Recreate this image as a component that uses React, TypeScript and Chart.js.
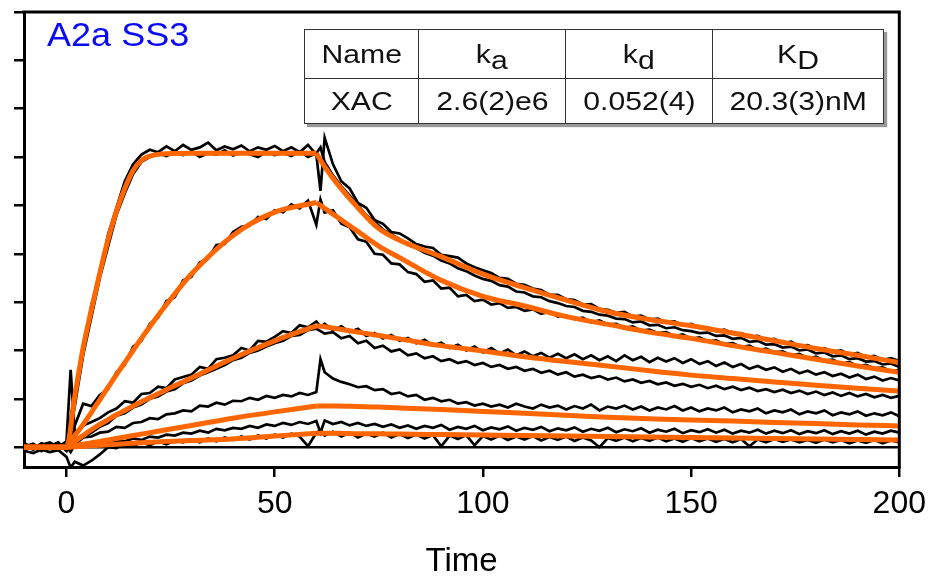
import { useEffect, useRef } from "react";
import { Chart, registerables } from "chart.js";

Chart.register(...registerables);

const FONT = '"Liberation Sans", Arial, sans-serif';
const ORANGE = "#ff6600";

// Sampling times of the measured sensorgram traces (s)
const TIME = [
  -10, -8, -6, -4, -2, 0, 1,
  2, 4, 6, 8, 10, 12, 14, 16, 18, 20,
  22, 24, 26, 28, 30, 32, 34, 36, 38, 40,
  42, 44, 46, 48, 50, 52, 54, 56, 58, 60,
  61,
  62, 64, 66, 68, 70, 72, 74, 76, 78, 80,
  82, 84, 86, 88, 90, 92, 94, 96, 98, 100,
  102, 104, 106, 108, 110, 112, 114, 116, 118, 120,
  122, 124, 126, 128, 130, 132, 134, 136, 138, 140,
  142, 144, 146, 148, 150, 152, 154, 156, 158, 160,
  162, 164, 166, 168, 170, 172, 174, 176, 178, 180,
  182, 184, 186, 188, 190, 192, 194, 196, 198, 200,
];

// Measured traces (black)
const TRACE_1A = [
  0.05, -0.03, 0.08, 0.02, 0.1, -0.05, 0.6,
  1.15, 2.0, 2.95, 3.55, 4.4, 4.95, 5.5, 5.85, 6.05, 6.15,
  6.1, 6.22, 6.12, 6.25, 6.15, 6.2, 6.3, 6.14, 6.22, 6.16,
  6.24, 6.12, 6.2, 6.15, 6.23, 6.12, 6.2, 6.1, 6.25, 6.05,
  5.3,
  6.4, 5.85, 5.5, 5.35, 5.05, 4.95, 4.7, 4.62, 4.45, 4.42,
  4.32, 4.2, 4.15, 4.12, 3.98, 3.95, 3.92, 3.8, 3.72, 3.66,
  3.6, 3.5, 3.48, 3.38, 3.36, 3.28, 3.25, 3.15, 3.15, 3.06,
  3.04, 2.95, 2.96, 2.86, 2.84, 2.78, 2.8, 2.7, 2.72, 2.64,
  2.66, 2.58, 2.6, 2.52, 2.55, 2.47, 2.48, 2.4, 2.43, 2.35,
  2.36, 2.28, 2.3, 2.22, 2.24, 2.15, 2.18, 2.09, 2.11, 2.03,
  2.05, 1.97, 2.0, 1.92, 1.95, 1.86, 1.89, 1.8, 1.84, 1.78,
];
const TRACE_1B = [
  -0.04, 0.06, -0.02, 0.04, -0.06, 0.03, 0.35,
  0.85, 1.9, 2.7, 3.5, 4.15, 4.8, 5.25, 5.65, 5.9, 6.0,
  6.08, 6.02, 6.1, 6.04, 6.12, 6.0, 6.08, 6.05, 6.14, 6.03,
  6.1, 6.06, 6.0, 6.11, 6.04, 6.09, 6.02, 6.12, 6.0, 6.08,
  6.2,
  5.9, 5.62, 5.4, 5.2, 5.0, 4.8, 4.66, 4.5, 4.4, 4.3,
  4.18, 4.12, 4.02, 3.96, 3.86, 3.8, 3.7, 3.64, 3.55, 3.48,
  3.44, 3.35, 3.32, 3.22, 3.2, 3.12, 3.1, 3.02, 2.98, 2.92,
  2.9, 2.82, 2.8, 2.74, 2.72, 2.66, 2.65, 2.58, 2.6, 2.52,
  2.53, 2.46, 2.48, 2.42, 2.4, 2.36, 2.37, 2.3, 2.31, 2.24,
  2.26, 2.18, 2.2, 2.12, 2.13, 2.06, 2.08, 2.0, 2.02, 1.94,
  1.96, 1.88, 1.9, 1.82, 1.84, 1.77, 1.78, 1.71, 1.73, 1.66,
];
const TRACE_2 = [
  0.02, 0.07, -0.05, 0.0, 0.06, -0.08, 0.2,
  0.45, 0.9, 0.85, 1.08, 1.2, 1.55, 1.7, 2.08, 2.2, 2.55,
  2.68, 3.02, 3.1, 3.45, 3.52, 3.82, 3.9, 4.18, 4.2, 4.45,
  4.56, 4.58, 4.76, 4.72, 4.9, 4.86, 5.02, 4.94, 5.1, 4.6,
  5.12,
  4.85, 4.9, 4.62, 4.55, 4.3, 4.25, 4.0, 3.98, 3.8, 3.78,
  3.62, 3.58, 3.42, 3.45, 3.28, 3.3, 3.12, 3.15, 3.02, 3.05,
  2.95, 2.98, 2.88, 2.9, 2.82, 2.85, 2.76, 2.8, 2.7, 2.72,
  2.65, 2.68, 2.58, 2.62, 2.54, 2.55, 2.47, 2.5, 2.41, 2.43,
  2.36, 2.38, 2.3, 2.33, 2.24, 2.27, 2.19, 2.21, 2.13, 2.15,
  2.07, 2.1, 2.01, 2.04, 1.96, 1.98, 1.9, 1.93, 1.84, 1.87,
  1.79, 1.81, 1.73, 1.76, 1.68, 1.7, 1.63, 1.65, 1.57, 1.6,
];
const TRACE_3A = [
  0.08, -0.02, 0.05, 0.1, 0.0, 0.12, 1.6,
  0.3, 0.45, 0.52, 0.6, 0.72, 0.8, 0.95, 0.92, 1.1, 1.12,
  1.25, 1.22, 1.4, 1.45, 1.5, 1.66, 1.62, 1.82, 1.85, 1.9,
  2.05, 2.0, 2.2, 2.18, 2.28, 2.4, 2.36, 2.52, 2.48, 2.6,
  2.5,
  2.55, 2.42, 2.5, 2.38, 2.45, 2.3, 2.36, 2.25, 2.32, 2.2,
  2.26, 2.15, 2.22, 2.1, 2.16, 2.05, 2.12, 2.0, 2.08, 1.96,
  2.05, 1.94, 2.02, 1.9, 1.98, 1.88, 1.95, 1.85, 1.93, 1.84,
  1.92, 1.82, 1.9, 1.8, 1.88, 1.78, 1.9, 1.8, 1.87, 1.76,
  1.85, 1.77, 1.84, 1.74, 1.82, 1.72, 1.78, 1.68, 1.75, 1.66,
  1.72, 1.62, 1.68, 1.6, 1.65, 1.56, 1.62, 1.53, 1.58, 1.5,
  1.55, 1.47, 1.52, 1.44, 1.5, 1.41, 1.46, 1.38, 1.43, 1.38,
];
const TRACE_3B = [
  -0.06, 0.04, -0.08, 0.03, -0.04, 0.02, -0.1,
  0.05, 0.2, 0.3, 0.42, 0.5, 0.65, 0.7, 0.82, 0.88, 1.0,
  1.05, 1.15, 1.2, 1.32, 1.38, 1.48, 1.55, 1.62, 1.7, 1.8,
  1.85, 1.95, 2.0, 2.08, 2.15, 2.2, 2.3, 2.32, 2.42, 2.45,
  2.4,
  2.35, 2.38, 2.25, 2.3, 2.15, 2.2, 2.05, 2.1, 1.98, 2.02,
  1.9, 1.94, 1.84, 1.88, 1.78, 1.82, 1.74, 1.78, 1.7, 1.74,
  1.66, 1.7, 1.62, 1.66, 1.58, 1.62, 1.54, 1.58, 1.5, 1.55,
  1.46, 1.5, 1.43, 1.47, 1.4, 1.44, 1.36, 1.4, 1.33, 1.37,
  1.3, 1.34, 1.27, 1.31, 1.25, 1.29, 1.22, 1.27, 1.2, 1.25,
  1.18, 1.23, 1.16, 1.2, 1.14, 1.19, 1.12, 1.17, 1.1, 1.15,
  1.08, 1.13, 1.06, 1.12, 1.05, 1.1, 1.03, 1.08, 1.02, 1.06,
];
const TRACE_4A = [
  0.03, -0.05, 0.06, -0.02, 0.05, 0.0, 0.05,
  0.12, 0.2, 0.22, 0.3, 0.32, 0.42, 0.4, 0.5, 0.52, 0.6,
  0.58, 0.68, 0.7, 0.76, 0.74, 0.86, 0.84, 0.92, 0.88, 0.96,
  0.95, 1.02, 0.98, 1.06, 1.02, 1.08, 1.05, 1.12, 1.08, 1.14,
  1.82,
  1.55, 1.42, 1.35, 1.3, 1.24, 1.26, 1.18, 1.2, 1.1, 1.13,
  1.05, 1.08, 0.98, 1.02, 0.95, 0.98, 0.9, 0.93, 0.86, 0.9,
  0.84, 0.88, 0.82, 0.9, 0.84, 0.8, 0.88, 0.82, 0.86, 0.78,
  0.85, 0.8, 0.88, 0.76, 0.84, 0.8, 0.86, 0.78, 0.84, 0.76,
  0.82, 0.78, 0.85, 0.76, 0.82, 0.74, 0.8, 0.76, 0.82, 0.72,
  0.78, 0.74, 0.8, 0.7, 0.76, 0.72, 0.78, 0.68, 0.74, 0.7,
  0.76, 0.66, 0.72, 0.68, 0.74, 0.65, 0.7, 0.66, 0.72, 0.64,
];
const TRACE_4B = [
  -0.02, 0.04, 0.0, 0.07, -0.03, 0.05, 0.1,
  0.02, 0.08, 0.05, 0.1, 0.08, 0.14, 0.12, 0.18, 0.15, 0.22,
  0.2, 0.26, 0.24, 0.3, 0.28, 0.34, 0.3, 0.38, 0.35, 0.4,
  0.38, 0.44, 0.4, 0.47, 0.44, 0.5, 0.46, 0.52, 0.48, 0.54,
  0.3,
  0.55, 0.48, 0.52, 0.45, 0.5, 0.44, 0.48, 0.42, 0.47, 0.4,
  0.45, 0.38, 0.44, 0.4, 0.46, 0.36, 0.42, 0.38, 0.44, 0.35,
  0.41, 0.37, 0.43, 0.34, 0.4, 0.36, 0.42, 0.33, 0.39, 0.35,
  0.41, 0.32, 0.38, 0.34, 0.4, 0.31, 0.37, 0.33, 0.39, 0.3,
  0.36, 0.32, 0.38, 0.29, 0.35, 0.31, 0.37, 0.3, 0.36, 0.28,
  0.34, 0.3, 0.36, 0.28, 0.34, 0.29, 0.35, 0.27, 0.33, 0.29,
  0.35, 0.27, 0.33, 0.28, 0.34, 0.26, 0.32, 0.28, 0.34, 0.3,
];
const TRACE_5 = [
  -0.08, -0.12, -0.05, -0.1, -0.06, -0.2, -0.42,
  -0.3, -0.38, -0.28, -0.15, 0.0, -0.02, 0.08, 0.02, 0.1, 0.04,
  0.12, 0.06, 0.14, 0.1, 0.16, 0.1, 0.18, 0.12, 0.2, 0.15,
  0.22, 0.16, 0.24, 0.18, 0.26, 0.2, 0.28, 0.22, 0.02, 0.3,
  0.35,
  0.24, 0.32, 0.22, 0.3, 0.2, 0.28, 0.22, 0.3, 0.2, 0.27,
  0.19, 0.26, 0.18, 0.25, 0.02, 0.24, 0.17, 0.25, 0.04, 0.23,
  0.16, 0.24, 0.15, 0.22, 0.16, 0.23, 0.14, 0.21, 0.15, 0.22,
  0.13, 0.2, 0.14, 0.0, 0.19, 0.13, 0.2, 0.12, 0.19, 0.13,
  0.2, 0.12, 0.18, 0.11, 0.19, 0.12, 0.18, 0.11, 0.17, 0.1,
  0.17, 0.02, 0.16, 0.1, 0.17, 0.11, 0.16, 0.1, 0.15, 0.09,
  0.16, 0.1, 0.15, 0.08, 0.14, 0.09, 0.15, 0.08, 0.14, 0.1,
];

// Fitted curves (orange): association phase and dissociation phase
const FIT_ASSOC_T = [-11, 0, 2, 4, 6, 8, 10, 12, 14, 16, 18, 20, 24, 30, 40, 50, 60];
const FIT_DISS_T = [60, 62, 65, 70, 75, 80, 90, 100, 110, 120, 130, 140, 150, 160, 170, 180, 190, 200];

const FIT1_ASSOC = [0, 0, 1.05, 2.05, 2.85, 3.6, 4.3, 4.88, 5.35, 5.72, 5.93, 6.02, 6.07, 6.08, 6.08, 6.08, 6.08];
const FIT1_DISS = [6.08, 5.8, 5.45, 4.95, 4.52, 4.28, 3.94, 3.58, 3.3, 3.04, 2.8, 2.64, 2.51, 2.36, 2.2, 2.04, 1.9, 1.75];
const FIT2_ASSOC = [0, 0, 0.24, 0.47, 0.72, 0.98, 1.24, 1.5, 1.75, 2.0, 2.25, 2.49, 2.95, 3.58, 4.38, 4.86, 5.06];
const FIT2_DISS = [5.06, 4.94, 4.76, 4.46, 4.16, 3.92, 3.45, 3.12, 2.92, 2.7, 2.54, 2.38, 2.25, 2.1, 1.96, 1.82, 1.68, 1.55];
const FIT3_ASSOC = [0, 0, 0.12, 0.24, 0.36, 0.47, 0.57, 0.67, 0.76, 0.85, 0.94, 1.02, 1.19, 1.43, 1.84, 2.2, 2.51];
const FIT3_DISS = [2.51, 2.49, 2.45, 2.38, 2.31, 2.24, 2.1, 1.99, 1.87, 1.77, 1.68, 1.58, 1.49, 1.42, 1.35, 1.28, 1.22, 1.16];
const FIT4_ASSOC = [0, 0, 0.03, 0.06, 0.09, 0.12, 0.15, 0.18, 0.21, 0.24, 0.27, 0.3, 0.36, 0.45, 0.6, 0.73, 0.85];
const FIT4_DISS = [0.85, 0.85, 0.85, 0.84, 0.83, 0.81, 0.78, 0.74, 0.7, 0.66, 0.62, 0.59, 0.56, 0.54, 0.51, 0.49, 0.46, 0.44];
const FIT5_ASSOC = [0, 0, 0.01, 0.02, 0.03, 0.04, 0.05, 0.06, 0.07, 0.08, 0.09, 0.1, 0.12, 0.14, 0.17, 0.23, 0.29];
const FIT5_DISS = [0.29, 0.29, 0.29, 0.28, 0.28, 0.27, 0.26, 0.25, 0.24, 0.23, 0.22, 0.21, 0.2, 0.19, 0.18, 0.17, 0.16, 0.15];

const X_TICKS = [0, 50, 100, 150, 200];
const Y_TICKS = [0, 1, 2, 3, 4, 5, 6, 7, 8, 9];

const TITLE = "A2a SS3";
const TABLE_HEAD: { main: string; sub?: string }[] = [
  { main: "Name" },
  { main: "k", sub: "a" },
  { main: "k", sub: "d" },
  { main: "K", sub: "D" },
];
const TABLE_ROW = ["XAC", "2.6(2)e6", "0.052(4)", "20.3(3)nM"];
const TABLE_COL_W = [114, 147, 147, 171];

export default function App() {
  const ref = useRef<HTMLCanvasElement>(null);

  useEffect(() => {
    const canvas = ref.current;
    if (!canvas) return;
    const zip = (ts: number[], vs: number[]) => ts.map((t, i) => ({ x: t, y: vs[i] }));
    const fit = (ts: number[], vs: number[]) => ({
      data: zip(ts, vs),
      borderColor: ORANGE,
      borderWidth: 5,
      pointRadius: 0,
      cubicInterpolationMode: "monotone" as const,
      fill: false,
    });
    const trace = (vs: number[]) => ({
      data: zip(TIME, vs),
      borderColor: "#000",
      borderWidth: 2.7,
      pointRadius: 0,
      tension: 0,
      fill: false,
    });

    const framePlugin = {
      id: "frame",
      beforeDatasetsDraw(chart: any) {
        const { ctx, chartArea, scales } = chart;
        const y0 = scales.y.getPixelForValue(0);
        ctx.save();
        ctx.strokeStyle = "#000";
        ctx.lineWidth = 2.5;
        ctx.beginPath();
        ctx.moveTo(chartArea.left, y0);
        ctx.lineTo(chartArea.right, y0);
        ctx.stroke();
        ctx.restore();
      },
      afterDraw(chart: any) {
        const { ctx, chartArea } = chart;
        ctx.save();
        ctx.strokeStyle = "#000";
        ctx.lineWidth = 3;
        ctx.beginPath();
        ctx.moveTo(chartArea.left - 1.5, chartArea.top);
        ctx.lineTo(chartArea.right, chartArea.top);
        ctx.lineTo(chartArea.right, chartArea.bottom + 1.5);
        ctx.stroke();
        ctx.restore();
      },
    };

    const axisCommon = {
      grid: { drawOnChartArea: false, drawTicks: true, tickLength: 10, color: "#000", lineWidth: 2.5 },
      border: { display: true, color: "#000", width: 3 },
    };

    const chart = new Chart(canvas, {
      type: "line",
      data: {
        datasets: [
          fit(FIT_ASSOC_T, FIT1_ASSOC),
          fit(FIT_DISS_T, FIT1_DISS),
          fit(FIT_ASSOC_T, FIT2_ASSOC),
          fit(FIT_DISS_T, FIT2_DISS),
          fit(FIT_ASSOC_T, FIT3_ASSOC),
          fit(FIT_DISS_T, FIT3_DISS),
          fit(FIT_ASSOC_T, FIT4_ASSOC),
          fit(FIT_DISS_T, FIT4_DISS),
          fit(FIT_ASSOC_T, FIT5_ASSOC),
          fit(FIT_DISS_T, FIT5_DISS),
          trace(TRACE_1A),
          trace(TRACE_1B),
          trace(TRACE_2),
          trace(TRACE_3A),
          trace(TRACE_3B),
          trace(TRACE_4A),
          trace(TRACE_4B),
          trace(TRACE_5),
        ] as any,
      },
      options: {
        responsive: false,
        animation: false,
        devicePixelRatio: 1,
        layout: { padding: { left: 0, top: 12, right: 34, bottom: 0 } },
        plugins: { legend: { display: false }, tooltip: { enabled: false } },
        scales: {
          x: {
            type: "linear",
            min: -10.2,
            max: 200,
            afterBuildTicks: (s: any) => {
              s.ticks = X_TICKS.map((v) => ({ value: v }));
            },
            afterFit: (s: any) => {
              s.height = 112;
            },
            ...axisCommon,
            ticks: {
              color: "#000",
              font: { family: FONT, size: 32 },
              padding: 8,
              maxRotation: 0,
              autoSkip: false,
            },
            title: {
              display: true,
              text: "Time",
              color: "#000",
              font: { family: FONT, size: 33, lineHeight: 1 },
              padding: { top: 0, bottom: 1 },
            },
          },
          y: {
            type: "linear",
            min: -0.41,
            max: 9,
            afterBuildTicks: (s: any) => {
              s.ticks = Y_TICKS.map((v) => ({ value: v }));
            },
            afterFit: (s: any) => {
              s.width = 24;
            },
            ...axisCommon,
            ticks: { display: false },
          },
        },
      } as any,
      plugins: [framePlugin],
    });
    return () => chart.destroy();
  }, []);

  const cellStyle: React.CSSProperties = {
    border: "1px solid #333",
    padding: 0,
    textAlign: "center",
    verticalAlign: "middle",
  };
  const stretch: React.CSSProperties = {
    display: "inline-block",
    transform: "scaleX(1.16)",
    whiteSpace: "nowrap",
  };

  return (
    <div style={{ position: "absolute", left: 0, top: 0, width: 934, height: 579, background: "#fff", overflow: "hidden" }}>
      <canvas ref={ref} width={934} height={579} style={{ display: "block", width: 934, height: 579 }} />
      <div
        style={{
          position: "absolute",
          left: 47,
          top: 17,
          fontFamily: FONT,
          fontSize: 34,
          lineHeight: "34px",
          color: "#0a0af5",
          whiteSpace: "nowrap",
          transform: "scaleX(1.06)",
          transformOrigin: "left center",
        }}
      >
        {TITLE}
      </div>
      <table
        style={{
          position: "absolute",
          left: 304,
          top: 29,
          width: 580,
          height: 94,
          borderCollapse: "collapse",
          tableLayout: "fixed",
          background: "#fff",
          boxShadow: "3px 3px 1px #999",
          fontFamily: FONT,
          fontSize: 26,
          color: "#111",
          lineHeight: 1,
        }}
      >
        <colgroup>
          {TABLE_COL_W.map((w, i) => (
            <col key={i} style={{ width: w }} />
          ))}
        </colgroup>
        <tbody>
          <tr style={{ height: 49 }}>
            {TABLE_HEAD.map((h, i) => (
              <td key={i} style={cellStyle}>
                <span style={stretch}>
                  {h.main}
                  {h.sub ? (
                    <span style={{ position: "relative", top: 6 }}>{h.sub}</span>
                  ) : null}
                </span>
              </td>
            ))}
          </tr>
          <tr style={{ height: 45 }}>
            {TABLE_ROW.map((c, i) => (
              <td key={i} style={cellStyle}>
                <span style={stretch}>{c}</span>
              </td>
            ))}
          </tr>
        </tbody>
      </table>
    </div>
  );
}
